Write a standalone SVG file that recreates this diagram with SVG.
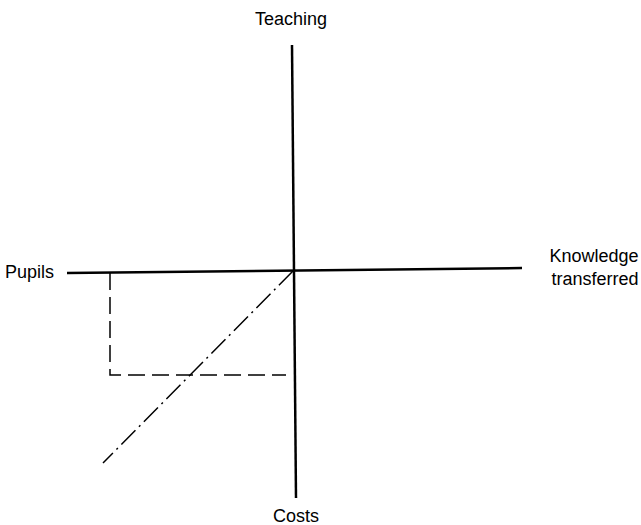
<svg xmlns="http://www.w3.org/2000/svg" width="641" height="525" viewBox="0 0 641 525">
<style>
text{font-family:"Liberation Sans",Arial,sans-serif;font-size:18px;fill:#000}
.axis{stroke:#000;stroke-width:2.5;fill:none}
.dash{stroke:#000;stroke-width:1.5;fill:none;stroke-dasharray:17 7}
.dashdot{stroke:#000;stroke-width:1.5;fill:none;stroke-dasharray:20 5 2 5}
</style>
<rect width="641" height="525" fill="#fff"/>
<g id="connectors">
<line class="axis" x1="292" y1="45" x2="296" y2="498"/>
<line class="axis" x1="67" y1="273" x2="522" y2="268"/>
<polyline class="dash" points="110,273 110,375 286,375"/>
<line class="dashdot" x1="293" y1="271" x2="103" y2="463"/>
</g>
<g id="teaching"><text x="291" y="25" text-anchor="middle">Teaching</text></g>
<g id="pupils"><text x="5" y="278">Pupils</text></g>
<g id="knowledge"><text x="594" y="262" text-anchor="middle">Knowledge</text><text x="595" y="285" text-anchor="middle">transferred</text></g>
<g id="costs"><text x="296" y="522" text-anchor="middle">Costs</text></g>
</svg>
